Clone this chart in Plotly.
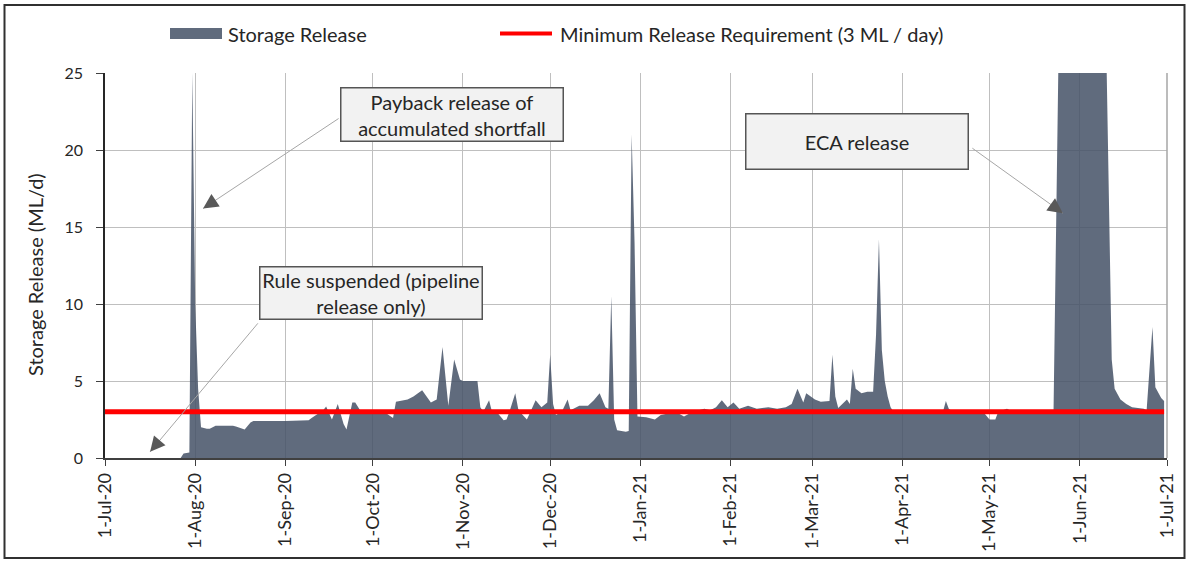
import plotly.graph_objects as go

# ---------------- data ----------------
release_dates = [
    "2020-07-01", "2020-07-27", "2020-07-28", "2020-07-30", "2020-07-31",
    "2020-08-01", "2020-08-02", "2020-08-03", "2020-08-05", "2020-08-06",
    "2020-08-08", "2020-08-14", "2020-08-15", "2020-08-18", "2020-08-20",
    "2020-08-21", "2020-09-01", "2020-09-09", "2020-09-10", "2020-09-14",
    "2020-09-15", "2020-09-17", "2020-09-19", "2020-09-21", "2020-09-22",
    "2020-09-24", "2020-09-25", "2020-09-27", "2020-10-06", "2020-10-08",
    "2020-10-09", "2020-10-13", "2020-10-15", "2020-10-18", "2020-10-21",
    "2020-10-23", "2020-10-25", "2020-10-27", "2020-10-29", "2020-10-31",
    "2020-11-01", "2020-11-06", "2020-11-07", "2020-11-08", "2020-11-10",
    "2020-11-11", "2020-11-13", "2020-11-15", "2020-11-16", "2020-11-17",
    "2020-11-19", "2020-11-20", "2020-11-21", "2020-11-23", "2020-11-24",
    "2020-11-26", "2020-11-28", "2020-11-30", "2020-12-01", "2020-12-02",
    "2020-12-03", "2020-12-05", "2020-12-07", "2020-12-08", "2020-12-11",
    "2020-12-14", "2020-12-16", "2020-12-18", "2020-12-20", "2020-12-21",
    "2020-12-22", "2020-12-23", "2020-12-24", "2020-12-27", "2020-12-28",
    "2020-12-29", "2020-12-30", "2020-12-31", "2021-01-03", "2021-01-06",
    "2021-01-08", "2021-01-11", "2021-01-14", "2021-01-16", "2021-01-19",
    "2021-01-23", "2021-01-25", "2021-01-27", "2021-01-29", "2021-01-31",
    "2021-02-02", "2021-02-04", "2021-02-07", "2021-02-10", "2021-02-14",
    "2021-02-17", "2021-02-20", "2021-02-22", "2021-02-24", "2021-02-26",
    "2021-02-27", "2021-03-02", "2021-03-04", "2021-03-07", "2021-03-08",
    "2021-03-09", "2021-03-10", "2021-03-13", "2021-03-14", "2021-03-15",
    "2021-03-16", "2021-03-18", "2021-03-20", "2021-03-22", "2021-03-23",
    "2021-03-24", "2021-03-25", "2021-03-26", "2021-03-27", "2021-03-28",
    "2021-03-29", "2021-04-15", "2021-04-16", "2021-04-17", "2021-04-18",
    "2021-04-23", "2021-04-29", "2021-05-01", "2021-05-03", "2021-05-04",
    "2021-05-07", "2021-05-09", "2021-05-23", "2021-05-25", "2021-06-10",
    "2021-06-11", "2021-06-12", "2021-06-13", "2021-06-15", "2021-06-17",
    "2021-06-19", "2021-06-23", "2021-06-24", "2021-06-26", "2021-06-27",
    "2021-06-29", "2021-06-30",
]
release_values = [
    0, 0, 0.3, 0.35, 25,
    10, 4.5, 2.0, 1.9, 1.9,
    2.1, 2.1, 2.05, 1.85, 2.3,
    2.4, 2.4, 2.45, 2.6, 3.1,
    3.35, 2.5, 3.5, 2.2, 1.85,
    3.6, 3.6, 3.0, 2.85, 2.6,
    3.65, 3.8, 4.0, 4.4, 3.6,
    3.8, 7.2, 3.4, 6.4, 5.1,
    5.0, 5.0, 3.3, 3.0, 3.75,
    3.0, 2.9, 2.45, 2.5, 3.0,
    4.2, 3.2, 2.9, 2.5, 2.9,
    3.75, 3.3, 3.6, 6.7, 3.5,
    2.8, 3.0, 3.8, 3.1, 3.4,
    3.4, 3.75, 4.2, 3.3, 3.2,
    10.5, 2.5, 1.8, 1.7, 1.75,
    21, 14, 2.7, 2.65, 2.5,
    2.8, 2.9, 2.9, 2.7, 3.0,
    3.2, 3.1, 3.3, 3.75, 3.3,
    3.6, 3.2, 3.4, 3.2, 3.3,
    3.2, 3.3, 3.5, 4.5, 3.6,
    4.2, 3.8, 3.65, 3.7, 6.7,
    4.0, 3.25, 3.8, 3.5, 5.8,
    4.5, 4.2, 4.3, 4.3, 8.0,
    14.2, 7.0, 5.0, 4.0, 3.3,
    3.0, 3.0, 3.7, 3.2, 3.05,
    3.1, 2.95, 2.5, 2.5, 3.0,
    3.2, 3.0, 3.0, 30, 28,
    17, 6.4, 4.5, 3.8, 3.5,
    3.3, 3.2, 3.1, 8.5, 4.6,
    3.9, 3.7,
]

min_req_dates = ["2020-07-01", "2021-06-30"]
min_req_values = [3, 3]

x_tick_vals = [
    "2020-07-01", "2020-08-01", "2020-09-01", "2020-10-01", "2020-11-01",
    "2020-12-01", "2021-01-01", "2021-02-01", "2021-03-01", "2021-04-01",
    "2021-05-01", "2021-06-01", "2021-07-01",
]
x_tick_text = [
    "1-Jul-20", "1-Aug-20", "1-Sep-20", "1-Oct-20", "1-Nov-20", "1-Dec-20",
    "1-Jan-21", "1-Feb-21", "1-Mar-21", "1-Apr-21", "1-May-21", "1-Jun-21",
    "1-Jul-21",
]
y_tick_vals = [0, 5, 10, 15, 20, 25]

series_names = ["Storage Release", "Minimum Release Requirement (3 ML / day)"]

# ---------------- style ----------------
FONT = "Lato, Carlito, Calibri, sans-serif"
TXT = "#262626"
AREA = "rgba(68,81,102,0.85)"
AREA_SOLID = "#606B7D"
GRID = "#BFBFBF"

fig = go.Figure()
fig.add_trace(go.Scatter(
    x=release_dates, y=release_values, mode="lines", fill="tozeroy",
    line=dict(width=0, color=AREA_SOLID), fillcolor=AREA,
    name=series_names[0], showlegend=False, hoverinfo="x+y",
))
fig.add_trace(go.Scatter(
    x=min_req_dates, y=min_req_values, mode="lines",
    line=dict(width=5, color="#FF0000"),
    name=series_names[1], showlegend=False,
))

fig.update_layout(
    width=1187, height=563,
    margin=dict(l=105, r=20, t=73, b=105),
    paper_bgcolor="white", plot_bgcolor="white",
    font=dict(family=FONT, color=TXT, size=16),
    showlegend=False,
)
fig.update_xaxes(
    type="date", range=["2020-07-01", "2021-07-01"],
    tickvals=x_tick_vals, ticktext=x_tick_text, tickangle=-90,
    tickfont=dict(size=18, color=TXT, family=FONT),
    ticks="outside", ticklen=6, tickcolor="#404040", tickwidth=1,
    showgrid=True, gridcolor=GRID, gridwidth=1,
    showline=True, linecolor="#404040", linewidth=1.5,
    zeroline=False, automargin=False,
)
fig.update_yaxes(
    range=[0, 25], tickvals=y_tick_vals,
    tickfont=dict(size=16, color=TXT, family=FONT),
    ticks="outside", ticklen=7, tickcolor="#404040", tickwidth=1,
    ticklabelstandoff=10,
    showgrid=True, gridcolor=GRID, gridwidth=1,
    showline=True, linecolor="#262626", linewidth=1.5,
    zeroline=False, automargin=False,
)

# px -> paper helpers (plot area: x 105..1167, y 73..458)
def px(x):
    return (x - 105) / 1062.0

def py(y):
    return (458 - y) / 385.0

shapes = []
annotations = []

# plot-area right border
shapes.append(dict(type="line", xref="paper", yref="paper", x0=1, x1=1, y0=0, y1=1,
                   line=dict(color="#A6A6A6", width=1.5)))
# outer chart border
shapes.append(dict(type="rect", xref="paper", yref="paper",
                   x0=px(4.5), x1=px(1184.5), y0=py(558), y1=py(5),
                   line=dict(color="#303030", width=2), fillcolor="rgba(0,0,0,0)", layer="below"))

# legend (custom)
shapes.append(dict(type="rect", xref="paper", yref="paper",
                   x0=px(170), x1=px(222), y0=py(39), y1=py(28),
                   line=dict(width=0), fillcolor=AREA_SOLID))
shapes.append(dict(type="line", xref="paper", yref="paper",
                   x0=px(500), x1=px(552), y0=py(33.5), y1=py(33.5),
                   line=dict(width=4, color="#FF0000")))
annotations.append(dict(xref="paper", yref="paper", x=px(226), y=py(33.5),
                        xanchor="left", yanchor="middle", showarrow=False,
                        text=series_names[0], font=dict(size=20, color=TXT)))
annotations.append(dict(xref="paper", yref="paper", x=px(558), y=py(33.5),
                        xanchor="left", yanchor="middle", showarrow=False,
                        text=series_names[1], font=dict(size=20, color=TXT)))

# y-axis title
annotations.append(dict(xref="paper", yref="paper", x=px(35), y=py(275),
                        xanchor="center", yanchor="middle", showarrow=False,
                        textangle=-90, text="Storage Release (ML/d)",
                        font=dict(size=20, color=TXT)))

# callout arrows: light line + dark head
arrows = [
    # (tip x, tip y, tail dx, tail dy)
    ("2020-08-03 17:00", 16.2, 137, -91),
    ("2020-07-16 12:00", 0.4, 109, -130),
    ("2021-05-26 05:00", 15.9, -92, -66),
]
for ax_x, ax_y, dx, dy in arrows:
    annotations.append(dict(x=ax_x, y=ax_y, xref="x", yref="y", ax=dx, ay=dy,
                            text="", showarrow=True, arrowhead=0, arrowwidth=1,
                            arrowcolor="#A6A6A6", standoff=0, startstandoff=0))
    L = (dx * dx + dy * dy) ** 0.5
    annotations.append(dict(x=ax_x, y=ax_y, xref="x", yref="y",
                            ax=dx / L * 15, ay=dy / L * 15,
                            text="", showarrow=True, arrowhead=2, arrowsize=3.0,
                            arrowwidth=1, arrowcolor="#595959",
                            standoff=0, startstandoff=0))

# callout boxes
boxes = [
    ("Payback release of<br>accumulated shortfall", 452, 114.8, 219, 50),
    ("ECA release", 857, 141.7, 219, 52),
    ("Rule suspended (pipeline<br>release only)", 370.5, 293.3, 219, 49),
]
for text, cx, cy, w, h in boxes:
    annotations.append(dict(xref="paper", yref="paper", x=px(cx), y=py(cy),
                            xanchor="center", yanchor="middle", showarrow=False,
                            text=text, width=w, height=h, align="center", valign="middle",
                            bgcolor="#F2F2F2", bordercolor="#555555", borderwidth=1.5,
                            borderpad=1, font=dict(size=20, color=TXT)))

fig.update_layout(shapes=shapes, annotations=annotations)
fig.write_html(
    "out.html",
    config={"displayModeBar": False},
    post_script="document.body.style.margin='0';document.body.style.overflow='hidden';",
)
